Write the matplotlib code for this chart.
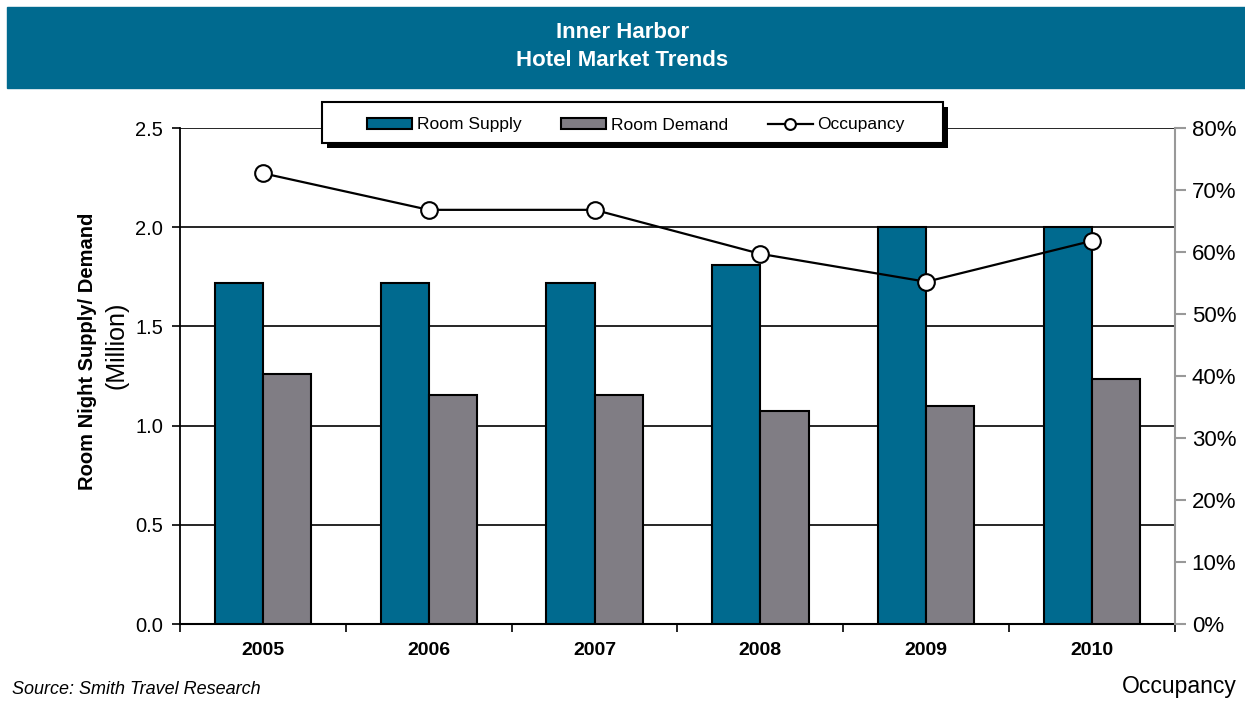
import numpy as np
import matplotlib
matplotlib.use('Agg')
import matplotlib.pyplot as plt
from matplotlib.patches import Rectangle
from matplotlib.ticker import FixedLocator

plt.rcParams['font.family'] = ['Liberation Sans', 'DejaVu Sans']

years = ['2005', '2006', '2007', '2008', '2009', '2010']
supply = [1.72, 1.72, 1.72, 1.81, 2.00, 2.00]
demand = [1.26, 1.155, 1.155, 1.075, 1.10, 1.235]
occupancy = [72.7, 66.8, 66.8, 59.7, 55.2, 61.8]

blue = '#006a8f'
grey = '#807d84'

fig = plt.figure(figsize=(12.45, 7.06), dpi=100)
W, H = 1245, 706

# title band
fig.patches.append(Rectangle((7/W, 1-88/H), 1-7/W, 81/H,
                             transform=fig.transFigure, color='#006a8f', zorder=0))
fig.text(0.5, 1-32/H, 'Inner Harbor', ha='center', va='center',
         color='white', fontsize=16, fontweight='bold')
fig.text(0.5, 1-60/H, 'Hotel Market Trends', ha='center', va='center',
         color='white', fontsize=16, fontweight='bold')

ax1 = fig.add_axes([180/W, 1-624/H, 995/W, 496/H])
x = np.arange(len(years))
width = 0.29
ax1.bar(x - width/2, supply, width, color=blue, edgecolor='black', linewidth=1.5,
        label='Room Supply', zorder=3)
ax1.bar(x + width/2, demand, width, color=grey, edgecolor='black', linewidth=1.5,
        label='Room Demand', zorder=3)
ax1.set_xlim(-0.5, len(years) - 0.5)
ax1.set_ylim(0, 2.5)
ax1.set_yticks([0, 0.5, 1.0, 1.5, 2.0, 2.5])
ax1.set_yticklabels(['0.0', '0.5', '1.0', '1.5', '2.0', '2.5'], fontsize=14.5)
ax1.set_xticks(x)
ax1.set_xticklabels(years, fontsize=14, fontweight='bold')
ax1.tick_params(axis='x', which='major', length=0, pad=13)
ax1.xaxis.set_minor_locator(FixedLocator(np.arange(-0.5, len(years), 1.0)))
ax1.tick_params(axis='x', which='minor', length=6, width=1.2, direction='out')
ax1.tick_params(axis='y', length=6, width=1.2, pad=6)
ax1.grid(axis='y', color='black', linewidth=1.2, zorder=1)
for s in ['top', 'right']:
    ax1.spines[s].set_visible(False)
ax1.spines['bottom'].set_linewidth(1.5)
ax1.spines['left'].set_linewidth(1.3)
ax1.set_axisbelow(True)

ax2 = ax1.twinx()
ax2.plot(x, occupancy, color='black', linewidth=1.6, marker='o', markersize=12,
         markerfacecolor='white', markeredgecolor='black', markeredgewidth=1.5,
         label='Occupancy', zorder=5)
ax2.set_ylim(0, 80)
ax2.set_yticks(np.arange(0, 81, 10))
ax2.set_yticklabels([f'{v}%' for v in range(0, 81, 10)], fontsize=16)
ax2.tick_params(axis='y', length=8, width=1.5, color='#999999', pad=4)
for s in ['left', 'top', 'bottom']:
    ax2.spines[s].set_visible(False)
ax2.spines['right'].set_color('#999999')
ax2.spines['right'].set_linewidth(1.5)

fig.text(88/W, 1-351/H, 'Room Night Supply/ Demand', rotation=90,
         ha='center', va='center', fontsize=14.5, fontweight='bold')
fig.text(117/W, 1-345/H, '(Million)', rotation=90,
         ha='center', va='center', fontsize=18)

# legend box with hard shadow
fig.patches.append(Rectangle((327/W, 1-148/H), 621/W, 41/H, transform=fig.transFigure,
                             facecolor='black', edgecolor='none', zorder=8))
fig.patches.append(Rectangle((322/W, 1-143/H), 621/W, 41/H, transform=fig.transFigure,
                             facecolor='white', edgecolor='black', linewidth=1.5, zorder=9))
h1, l1 = ax1.get_legend_handles_labels()
h2, l2 = ax2.get_legend_handles_labels()
leg = fig.legend(h1 + h2, l1 + l2, loc='center', ncol=3,
                 bbox_to_anchor=(636/W, 1-125/H), fontsize=12.5,
                 frameon=False, handlelength=2.6, handleheight=0.55,
                 columnspacing=2.3, handletextpad=0.25, markerscale=0.65)
leg.set_zorder(10)

fig.text(12/W, 1-689/H, 'Source: Smith Travel Research', fontsize=13,
         style='italic', ha='left', va='center')
fig.text(1237/W, 1-686/H, 'Occupancy', fontsize=16.5, ha='right', va='center')

plt.savefig('out.png', dpi=100)
